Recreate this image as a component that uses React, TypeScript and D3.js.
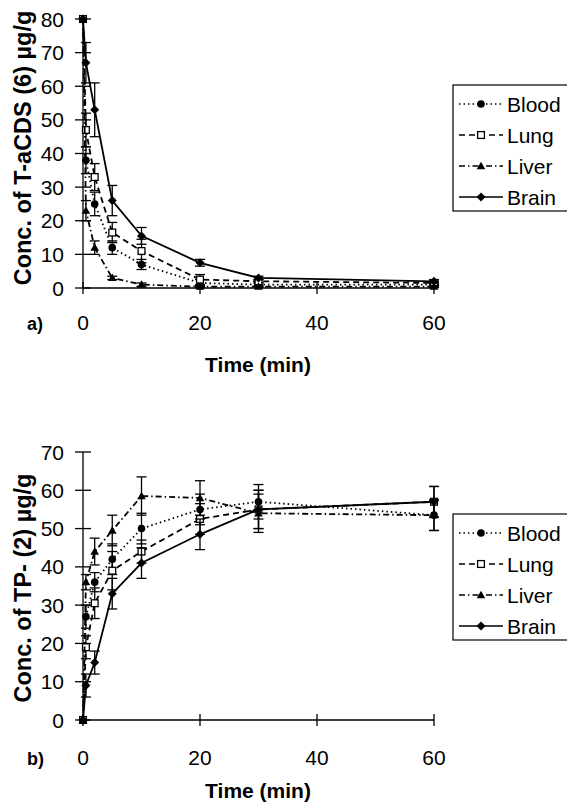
import React from "react";
import * as d3 from "d3";

const times = [0, 0.5, 2, 5, 10, 20, 30, 60];
const seriesNames = ["Blood", "Lung", "Liver", "Brain"];
const xTicks = [0, 20, 40, 60];

// Panel a) T-aCDS (6)
const bloodA = [80, 38, 25, 12, 7, 1.5, 1, 1];
const bloodAErr = [0, 4, 3.5, 2, 1.5, 1, 0.5, 0.5];
const lungA = [80, 47, 33, 16.5, 11, 2.5, 2, 1.5];
const lungAErr = [0, 5, 4, 3, 3.5, 1.5, 0.5, 0.5];
const liverA = [80, 23, 12, 3, 1, 0.4, 0.4, 0.4];
const liverAErr = [0, 3, 2, 0.5, 0.5, 0.3, 0.3, 0.3];
const brainA = [80, 67, 53, 26, 15.5, 7.5, 3, 2];
const brainAErr = [0, 6, 8, 4.5, 2.5, 1, 0.5, 0.5];
const yTicksA = [0, 10, 20, 30, 40, 50, 60, 70, 80];

// Panel b) TP- (2)
const bloodB = [0, 27, 36, 42, 50, 55, 57, 53.5];
const bloodBErr = [0, 3, 2.5, 4, 4, 4, 4.5, 4];
const lungB = [0, 19, 30.5, 39, 44, 52.5, 55, 57];
const lungBErr = [0, 3, 4, 5, 3, 4, 5, 4];
const liverB = [0, 36, 44, 49.5, 58.5, 58, 54, 53.5];
const liverBErr = [0, 2, 3.5, 4, 5, 4.5, 5, 4];
const brainB = [0, 9, 15, 33, 41, 48.5, 55, 57];
const brainBErr = [0, 3, 3, 4, 4, 4, 5, 4];
const yTicksB = [0, 10, 20, 30, 40, 50, 60, 70];

const dashes: Record<string, string | undefined> = {
  Blood: "1.5,3",
  Lung: "6,4",
  Liver: "6,3,1.5,3",
  Brain: undefined,
};

const FONT = "'Liberation Sans', Arial, Helvetica, sans-serif";

function Marker({ name, x, y }: { name: string; x: number; y: number }) {
  if (name === "Blood") return <circle cx={x} cy={y} r={3.8} fill="#000" />;
  if (name === "Lung")
    return <rect x={x - 3.4} y={y - 3.4} width={6.8} height={6.8} fill="#fff" stroke="#000" strokeWidth={1.3} />;
  if (name === "Liver")
    return <path d={`M${x},${y - 4.3} L${x + 4.3},${y + 3.2} L${x - 4.3},${y + 3.2} Z`} fill="#000" />;
  return <path d={`M${x},${y - 4.5} L${x + 4.5},${y} L${x},${y + 4.5} L${x - 4.5},${y} Z`} fill="#000" />;
}

type Series = { name: string; values: number[]; errs: number[] };

function Panel({
  series,
  yMax,
  yTicks,
  y0,
  y1,
  yTitle,
  tag,
  tickBase,
  titleBase,
  yTitleCenter,
  legendTop,
}: {
  series: Series[];
  yMax: number;
  yTicks: number[];
  y0: number;
  y1: number;
  yTitle: string;
  tag: string;
  tickBase: number;
  titleBase: number;
  yTitleCenter: number;
  legendTop: number;
}) {
  const x = d3.scaleLinear().domain([0, 60]).range([83, 434]);
  const y = d3.scaleLinear().domain([0, yMax]).range([y0, y1]);
  const line = d3
    .line<number>()
    .x((_, i) => x(times[i]))
    .y((v) => y(v));
  return (
    <g>
      {/* axes */}
      <line x1={x(0)} x2={x(0)} y1={y(0)} y2={y(yMax)} stroke="#000" strokeWidth={1.3} />
      <line x1={x(0)} x2={x(60)} y1={y(0)} y2={y(0)} stroke="#000" strokeWidth={1.3} />
      {yTicks.map((t) => (
        <g key={"yt" + t}>
          <line x1={x(0) - 8} x2={x(0) + 8} y1={y(t)} y2={y(t)} stroke="#000" strokeWidth={1.3} />
          <text x={64} y={y(t)} dy="0.36em" textAnchor="end" fontSize={21} fontFamily={FONT}>
            {t}
          </text>
        </g>
      ))}
      {xTicks.map((t) => (
        <g key={"xt" + t}>
          <line x1={x(t)} x2={x(t)} y1={y(0) - 6} y2={y(0) + 6} stroke="#000" strokeWidth={1.3} />
          <text x={x(t)} y={tickBase} textAnchor="middle" fontSize={21} fontFamily={FONT}>
            {t}
          </text>
        </g>
      ))}
      <text x={27} y={tickBase} fontSize={18} fontWeight="bold" fontFamily={FONT}>
        {tag}
      </text>
      <text x={258} y={titleBase} textAnchor="middle" fontSize={21} fontWeight="bold" fontFamily={FONT}>
        Time (min)
      </text>
      <text
        transform={`translate(31,${yTitleCenter}) rotate(-90)`}
        textAnchor="middle"
        fontSize={23.5}
        fontWeight="bold"
        fontFamily={FONT}
      >
        {yTitle}
      </text>
      {/* series */}
      {series.map((s) => (
        <g key={s.name}>
          <path d={line(s.values) || ""} fill="none" stroke="#000" strokeWidth={1.8} strokeDasharray={dashes[s.name]} />
          {s.values.map((v, i) =>
            s.errs[i] > 0 ? (
              <g key={"e" + i}>
                <line x1={x(times[i])} x2={x(times[i])} y1={y(v - s.errs[i])} y2={y(v + s.errs[i])} stroke="#000" strokeWidth={1.3} />
                <line x1={x(times[i]) - 5} x2={x(times[i]) + 5} y1={y(v - s.errs[i])} y2={y(v - s.errs[i])} stroke="#000" strokeWidth={1.3} />
                <line x1={x(times[i]) - 5} x2={x(times[i]) + 5} y1={y(v + s.errs[i])} y2={y(v + s.errs[i])} stroke="#000" strokeWidth={1.3} />
              </g>
            ) : null
          )}
          {s.values.map((v, i) => (
            <Marker key={"m" + i} name={s.name} x={x(times[i])} y={y(v)} />
          ))}
        </g>
      ))}
      {/* legend */}
      <rect x={453} y={legendTop} width={130} height={126} fill="#fff" stroke="#000" strokeWidth={1.2} />
      {seriesNames.map((n, i) => {
        const ly = legendTop + 19 + i * 31;
        return (
          <g key={"lg" + n}>
            <line x1={459} x2={503} y1={ly} y2={ly} stroke="#000" strokeWidth={1.7} strokeDasharray={dashes[n]} />
            <Marker name={n} x={481} y={ly} />
            <text x={507} y={ly} dy="0.36em" fontSize={21} fontFamily={FONT}>
              {n}
            </text>
          </g>
        );
      })}
    </g>
  );
}

export default function App() {
  const seriesA: Series[] = [
    { name: "Blood", values: bloodA, errs: bloodAErr },
    { name: "Lung", values: lungA, errs: lungAErr },
    { name: "Liver", values: liverA, errs: liverAErr },
    { name: "Brain", values: brainA, errs: brainAErr },
  ];
  const seriesB: Series[] = [
    { name: "Blood", values: bloodB, errs: bloodBErr },
    { name: "Lung", values: lungB, errs: lungBErr },
    { name: "Liver", values: liverB, errs: liverBErr },
    { name: "Brain", values: brainB, errs: brainBErr },
  ];
  return (
    <svg
      width={567}
      height={805}
      style={{ position: "absolute", left: 0, top: 0, background: "#fff" }}
    >
      <rect width={567} height={805} fill="#fff" />
      <Panel
        series={seriesA}
        yMax={80}
        yTicks={yTicksA}
        y0={288}
        y1={19}
        yTitle="Conc. of T-aCDS (6) µg/g"
        tag="a)"
        tickBase={330}
        titleBase={372}
        yTitleCenter={148}
        legendTop={85}
      />
      <Panel
        series={seriesB}
        yMax={70}
        yTicks={yTicksB}
        y0={720}
        y1={452}
        yTitle="Conc. of TP- (2) µg/g"
        tag="b)"
        tickBase={765}
        titleBase={798}
        yTitleCenter={588}
        legendTop={514}
      />
    </svg>
  );
}
